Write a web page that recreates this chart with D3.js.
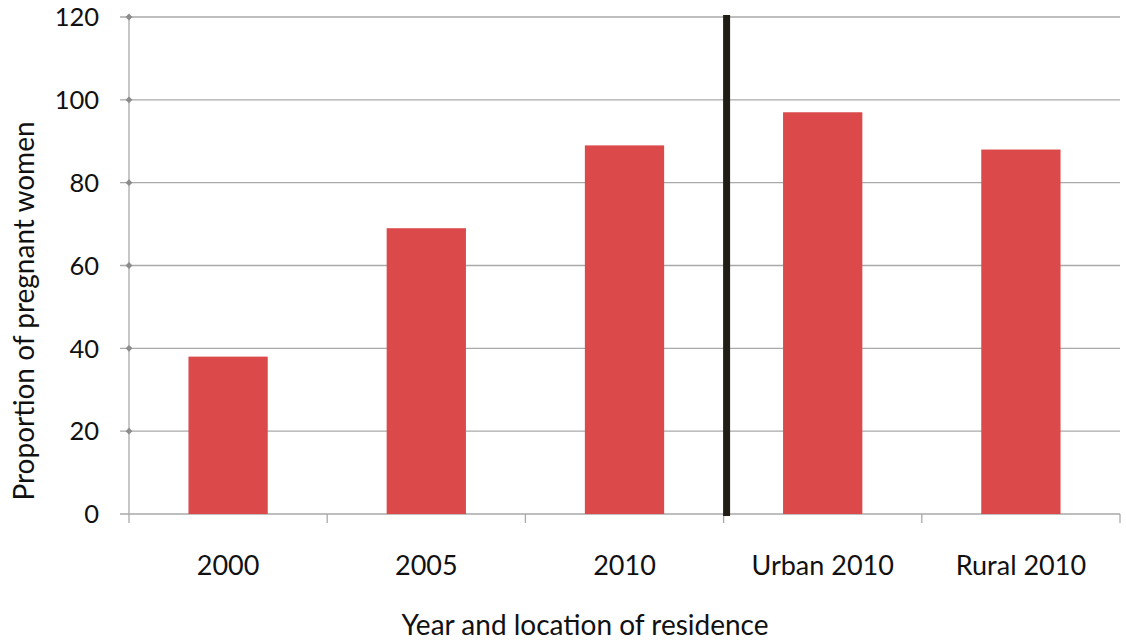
<!DOCTYPE html>
<html><head><meta charset="utf-8">
<script src="https://cdn.jsdelivr.net/npm/d3@7"></script>
<style>body{margin:0;background:#fff}svg{display:block}text{font-family:Lato,"Open Sans",sans-serif;fill:#111}</style>
</head><body><svg id="c" width="1126" height="640"></svg>
<script>
const categories = ["2000","2005","2010","Urban 2010","Rural 2010"];
const values = [38, 69, 89, 97, 88];
const yTicks = [0,20,40,60,80,100,120];
const dividerAfter = "2010";

const svg = d3.select("#c");
const m = {l:129, r:1120, t:17, b:514};
const x = d3.scaleBand().domain(categories).range([m.l, m.r]).paddingInner(0.6).paddingOuter(0.3);
const xb = d3.scaleBand().domain(categories).range([m.l, m.r]);
const y = d3.scaleLinear().domain([0,120]).range([m.b, m.t]);
const grid = "#a9a9a9";

svg.append("g").selectAll("line").data(yTicks.filter(d=>d>0)).join("line")
  .attr("x1", m.l-9).attr("x2", m.r).attr("y1", d=>y(d)).attr("y2", d=>y(d))
  .attr("stroke", grid).attr("stroke-width", 1.3);
svg.append("line").attr("x1", m.l-9).attr("x2", m.r).attr("y1", y(0)).attr("y2", y(0)).attr("stroke", grid).attr("stroke-width",1.3);
svg.append("line").attr("x1", m.l).attr("x2", m.l).attr("y1", y(120)).attr("y2", y(0)+9).attr("stroke", grid).attr("stroke-width",1.3);
const bounds = categories.map(c=>xb(c)).concat([m.r]);
svg.append("g").selectAll("line").data(bounds.slice(1)).join("line")
  .attr("x1", d=>d).attr("x2", d=>d).attr("y1", y(0)).attr("y2", y(0)+9)
  .attr("stroke", grid).attr("stroke-width",1.3);
svg.append("g").selectAll("path").data(yTicks.filter(d=>d>0)).join("path")
  .attr("d", d3.symbol(d3.symbolDiamond2, 30))
  .attr("transform", d=>`translate(${m.l},${y(d)})`).attr("fill", "#8c8c8c");

svg.append("g").selectAll("rect").data(values).join("rect")
  .attr("x", (d,i)=>x(categories[i])).attr("width", x.bandwidth())
  .attr("y", d=>y(d)).attr("height", d=>y(0)-y(d)).attr("fill", "#db494b");

const dx = xb(dividerAfter) + xb.bandwidth() + 3;
svg.append("rect").attr("x", dx-3.5).attr("width", 7).attr("y", y(120)-2).attr("height", y(0)-y(120)+4)
  .attr("fill", "#201d14");

svg.append("g").selectAll("text").data(yTicks).join("text")
  .attr("x", 99).attr("y", d=>y(d)).attr("dy","0.36em").attr("text-anchor","end")
  .attr("font-size", 25.5).text(d=>d);
svg.append("g").selectAll("text").data(categories).join("text")
  .attr("x", d=>xb(d)+xb.bandwidth()/2).attr("y", 575).attr("text-anchor","middle")
  .attr("font-size", 27).text(d=>d);
svg.append("text").attr("x", 585).attr("y", 635).attr("text-anchor","middle").attr("font-size", 28)
  .text("Year and location of residence");
svg.append("text").attr("transform","translate(34,311) rotate(-90)").attr("text-anchor","middle").attr("font-size", 28)
  .text("Proportion of pregnant women");
</script></body></html>
